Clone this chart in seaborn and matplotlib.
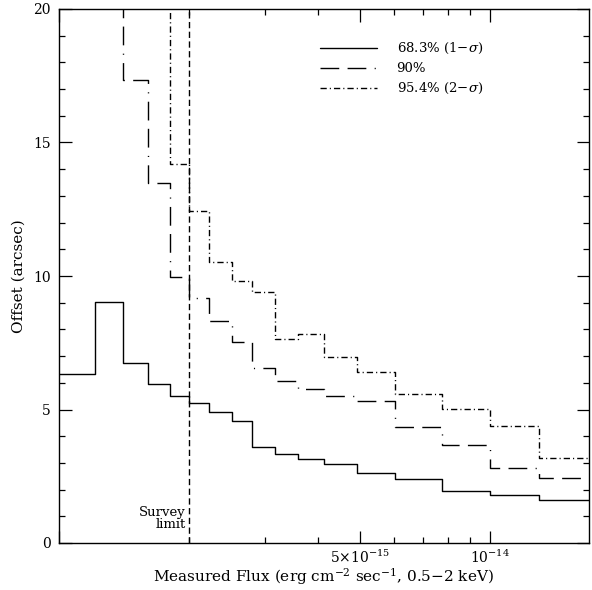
import numpy as np
import pandas as pd
import matplotlib
matplotlib.use("Agg")
import matplotlib.pyplot as plt
import seaborn as sns

# ---- data ----
bin_edges = [1.0e-15, 1.21e-15, 1.41e-15, 1.61e-15, 1.81e-15, 2.0e-15, 2.23e-15,
             2.52e-15, 2.81e-15, 3.17e-15, 3.59e-15, 4.12e-15, 4.92e-15, 6.04e-15,
             7.74e-15, 1.0e-14, 1.30e-14, 1.8e-14]
offset_68 = [6.32, 9.03, 6.73, 5.94, 5.50, 5.26, 4.89, 4.57, 3.61, 3.35, 3.15,
             2.95, 2.63, 2.40, 1.95, 1.80, 1.62]
offset_90 = [24.0, 22.0, 17.34, 13.49, 9.95, 9.16, 8.33, 7.54, 6.57, 6.08, 5.77,
             5.51, 5.32, 4.36, 3.67, 2.82, 2.42]
offset_954 = [30.0, 28.0, 26.0, 24.0, 14.18, 12.45, 10.51, 9.81, 9.39, 7.64, 7.82,
              6.98, 6.42, 5.58, 5.01, 4.39, 3.17]
series_labels = ["68.3% (1\u2212$\\sigma$)", "90%", "95.4% (2\u2212$\\sigma$)"]
survey_limit = 2.0e-15
x_major_ticks = [1e-15, 5e-15, 1e-14]
x_major_labels = ["", r"$5{\times}10^{-15}$", r"$10^{-14}$"]
x_minor_ticks = [2e-15, 3e-15, 4e-15, 6e-15, 7e-15, 8e-15, 9e-15]
y_ticks = [0, 5, 10, 15, 20]

sns.set_style("ticks")
plt.rcParams["font.family"] = ["DejaVu Serif"]
plt.rcParams["mathtext.fontset"] = "dejavuserif"
for k in ["text.color", "axes.labelcolor", "xtick.color", "ytick.color",
          "axes.edgecolor"]:
    plt.rcParams[k] = "black"

fig = plt.figure(figsize=(5.92, 5.90), dpi=100)
ax = fig.add_axes([59 / 592, 1 - 543 / 590, 530 / 592, 534 / 590])

styles = [
    dict(linestyle="-"),
    dict(dashes=(13.5, 6.0, 13.5, 6.0, 0.8, 6.0)),
    dict(dashes=(4.5, 2.2, 0.8, 2.2)),
]
for vals, lab, st in zip([offset_68, offset_90, offset_954], series_labels, styles):
    df = pd.DataFrame({"flux": bin_edges, "offset": list(vals) + [vals[-1]]})
    sns.lineplot(data=df, x="flux", y="offset", ax=ax, color="black", lw=1.0,
                 drawstyle="steps-post", sort=False, label=lab, **st)

ax.axvline(survey_limit, color="black", lw=1.0, dashes=(4.5, 2.5))
ax.text(1.97e-15, 0.45, "Survey\nlimit", ha="right", va="bottom", fontsize=9.5,
        linespacing=0.85)

ax.set_xscale("log")
ax.set_xlim(1.0e-15, 1.7e-14)
ax.set_ylim(0, 20)
ax.set_xticks(x_major_ticks)
ax.set_xticklabels(x_major_labels)
ax.set_xticks(x_minor_ticks, minor=True)
ax.set_xticklabels([""] * len(x_minor_ticks), minor=True)
ax.set_yticks(y_ticks)
ax.set_yticks(np.arange(0, 21, 1), minor=True)
ax.tick_params(which="both", direction="in", top=True, right=True, labelsize=10,
               width=0.9, color="black", labelcolor="black")
ax.tick_params(which="major", length=9, pad=6)
ax.tick_params(axis="x", which="major", pad=4)
ax.tick_params(which="minor", length=4.5)
for s in ax.spines.values():
    s.set_linewidth(1.0)
    s.set_color("black")

ax.set_xlabel("Measured Flux (erg cm$^{-2}$ sec$^{-1}$, 0.5\u22122 keV)", fontsize=11,
              labelpad=0, color="black")
ax.set_ylabel("Offset (arcsec)", fontsize=11, labelpad=5, color="black")

leg = ax.legend(loc="upper left", bbox_to_anchor=(0.47, 0.962), frameon=False,
                fontsize=9.5, handlelength=4.3, handletextpad=1.5,
                labelspacing=0.45)
for t in leg.get_texts():
    t.set_color("black")

fig.savefig("out.png", dpi=100)
